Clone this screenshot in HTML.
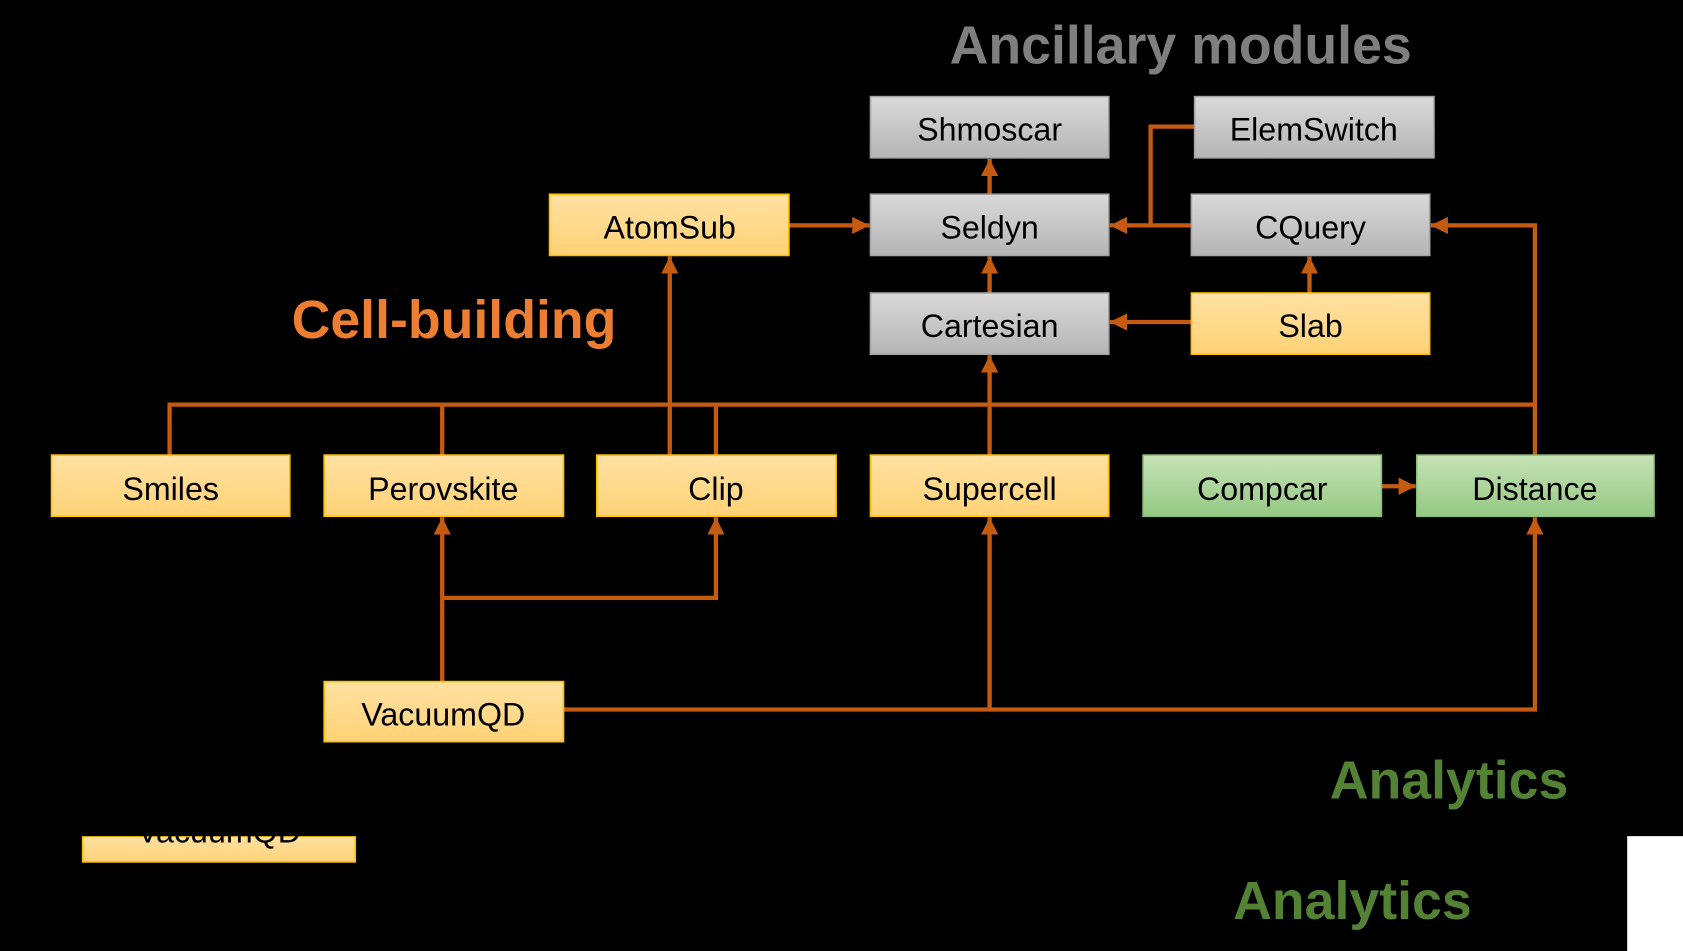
<!DOCTYPE html>
<html><head><meta charset="utf-8"><style>
html,body{margin:0;padding:0;background:#000;width:1683px;height:951px;overflow:hidden}
svg{display:block}
text{font-family:"Liberation Sans Narrow","Liberation Sans",sans-serif}
</style></head><body>
<svg width="1683" height="951" viewBox="0 0 1568 886" preserveAspectRatio="none" xmlns="http://www.w3.org/2000/svg">
<defs>
<linearGradient id="y" x1="0" y1="0" x2="0" y2="1"><stop offset="0" stop-color="#ffe1a3"/><stop offset="1" stop-color="#ffd276"/></linearGradient>
<linearGradient id="g" x1="0" y1="0" x2="0" y2="1"><stop offset="0" stop-color="#d9d9d9"/><stop offset="1" stop-color="#b5b5b5"/></linearGradient>
<linearGradient id="n" x1="0" y1="0" x2="0" y2="1"><stop offset="0" stop-color="#c6e2b6"/><stop offset="1" stop-color="#95c983"/></linearGradient>
<marker id="a" markerWidth="4" markerHeight="4" refX="4" refY="2" orient="auto" markerUnits="strokeWidth"><path d="M0,0 L4,2 L0,4 z" fill="#c55a11"/></marker>
</defs>
<rect width="1568" height="886" fill="#000"/>
<rect x="1516" y="779" width="52" height="107" fill="#fff"/>

<g stroke="#c55a11" stroke-width="4" fill="none">
<polyline points="158,424 158,377 1430,377"/>
<line x1="412" y1="377" x2="412" y2="424"/>
<line x1="667" y1="377" x2="667" y2="424"/>
<line x1="624" y1="424" x2="624" y2="239" marker-end="url(#a)"/>
<line x1="922" y1="424" x2="922" y2="331" marker-end="url(#a)"/>
<polyline points="1430,424 1430,210 1333,210" marker-end="url(#a)"/>
<line x1="735" y1="210" x2="810" y2="210" marker-end="url(#a)"/>
<line x1="1110" y1="210" x2="1034" y2="210" marker-end="url(#a)"/>
<polyline points="1113,118 1072,118 1072,210"/>
<line x1="922" y1="181" x2="922" y2="148" marker-end="url(#a)"/>
<line x1="922" y1="273" x2="922" y2="239" marker-end="url(#a)"/>
<line x1="1220" y1="273" x2="1220" y2="239" marker-end="url(#a)"/>
<line x1="1110" y1="300" x2="1034" y2="300" marker-end="url(#a)"/>
<line x1="1287" y1="453" x2="1319" y2="453" marker-end="url(#a)"/>
<line x1="412" y1="635" x2="412" y2="482" marker-end="url(#a)"/>
<polyline points="412,557 667,557 667,482" marker-end="url(#a)"/>
<polyline points="525,661 1430,661 1430,482" marker-end="url(#a)"/>
<line x1="922" y1="661" x2="922" y2="482" marker-end="url(#a)"/>
</g>

<g stroke-width="1.5">
<rect x="811" y="90" width="222" height="57" fill="url(#g)" stroke="#a6a6a6"/>
<rect x="1113" y="90" width="223" height="57" fill="url(#g)" stroke="#a6a6a6"/>
<rect x="811" y="181" width="222" height="57" fill="url(#g)" stroke="#a6a6a6"/>
<rect x="1110" y="181" width="222" height="57" fill="url(#g)" stroke="#a6a6a6"/>
<rect x="811" y="273" width="222" height="57" fill="url(#g)" stroke="#a6a6a6"/>
<rect x="512" y="181" width="223" height="57" fill="url(#y)" stroke="#ffc000"/>
<rect x="1110" y="273" width="222" height="57" fill="url(#y)" stroke="#ffc000"/>
<rect x="48" y="424" width="222" height="57" fill="url(#y)" stroke="#ffc000"/>
<rect x="302" y="424" width="223" height="57" fill="url(#y)" stroke="#ffc000"/>
<rect x="556" y="424" width="223" height="57" fill="url(#y)" stroke="#ffc000"/>
<rect x="811" y="424" width="222" height="57" fill="url(#y)" stroke="#ffc000"/>
<rect x="1065" y="424" width="222" height="57" fill="url(#n)" stroke="#8fbf7c"/>
<rect x="1320" y="424" width="221" height="57" fill="url(#n)" stroke="#8fbf7c"/>
<rect x="302" y="635" width="223" height="56" fill="url(#y)" stroke="#ffc000"/>
<rect x="77" y="779" width="254" height="24" fill="url(#y)" stroke="#ffc000"/>
</g>

<g font-size="30" fill="#000" text-anchor="middle">
<text x="922" y="131">Shmoscar</text>
<text x="1224" y="131">ElemSwitch</text>
<text x="922" y="222">Seldyn</text>
<text x="1221" y="222">CQuery</text>
<text x="922" y="314">Cartesian</text>
<text x="624" y="222">AtomSub</text>
<text x="1221" y="314">Slab</text>
<text x="159" y="466">Smiles</text>
<text x="413" y="466">Perovskite</text>
<text x="667" y="466">Clip</text>
<text x="922" y="466">Supercell</text>
<text x="1176" y="466">Compcar</text>
<text x="1430" y="466">Distance</text>
<text x="413" y="676">VacuumQD</text>
</g>
<text x="204" y="785" font-size="30" text-anchor="middle" fill="#000">VacuumQD</text>
<rect x="0" y="750" width="1516" height="29" fill="#000"/>

<g font-weight="bold" font-size="50" text-anchor="middle">
<text x="1100" y="59" fill="#7f7f7f">Ancillary modules</text>
<text x="423" y="315" fill="#ed7d31">Cell-building</text>
<text x="1350" y="744" fill="#548235">Analytics</text>
<text x="1260" y="856" fill="#548235">Analytics</text>
</g>
</svg>
</body></html>
